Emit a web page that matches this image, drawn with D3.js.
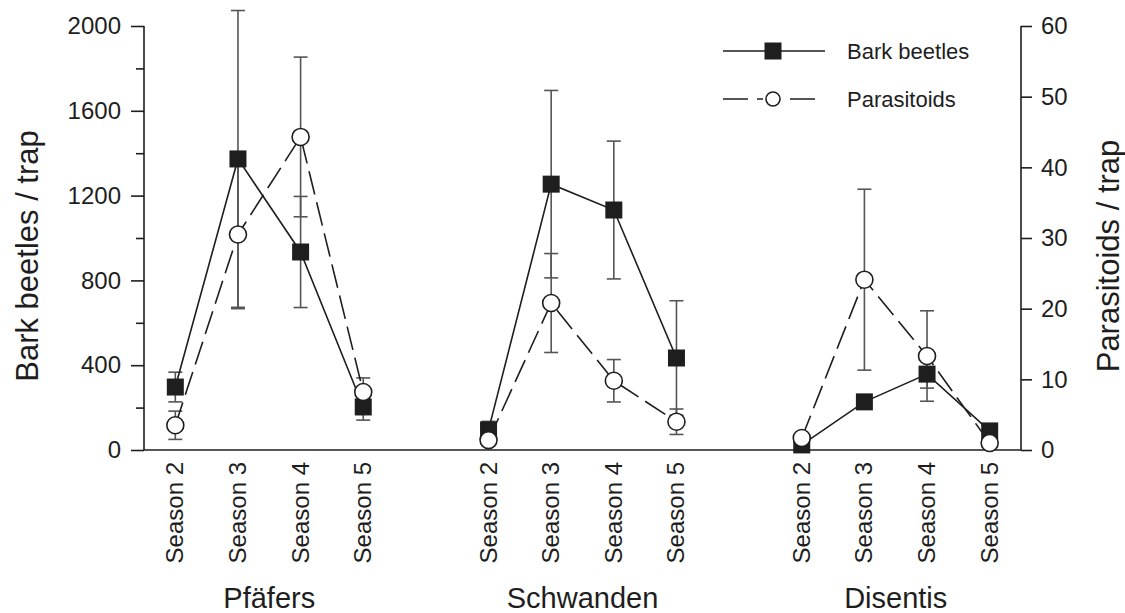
<!DOCTYPE html>
<html>
<head>
<meta charset="utf-8">
<script src="https://cdn.jsdelivr.net/npm/d3@7"></script>
<style>
  html, body { margin: 0; padding: 0; background: #fff; }
  svg { display: block; font-family: "Liberation Sans", Arial, Helvetica, sans-serif; }
</style>
</head>
<body>
<svg id="chart" width="1125" height="613"></svg>
<script>
// ---------- data ----------
const sites = ["Pfäfers", "Schwanden", "Disentis"];
const seasons = ["Season 2", "Season 3", "Season 4", "Season 5"];

// Bark beetles per trap (left axis), mean and error (+/-)
const barkMean = [
  [297, 1373, 934, 203],
  [95, 1254, 1132, 434],
  [24, 227, 358, 90]
];
const barkErr = [
  [70, 700, 262, 62],
  [40, 442, 325, 270],
  [15, 20, 66, 20]
];

// Parasitoids per trap (right axis), mean and error (+/-)
const paraMean = [
  [3.5, 30.5, 44.3, 8.2],
  [1.4, 20.8, 9.8, 4.0],
  [1.7, 24.1, 13.3, 1.0]
];
const paraErr = [
  [2.0, 10.5, 11.3, 2.0],
  [0.5, 7.0, 3.0, 1.8],
  [0.5, 12.8, 6.4, 0.5]
];

const leftTicks = [0, 400, 800, 1200, 1600, 2000];
const leftMinorTicks = [200, 600, 1000, 1400, 1800];
const rightTicks = [0, 10, 20, 30, 40, 50, 60];
const seriesNames = ["Bark beetles", "Parasitoids"];

// ---------- layout ----------
const svg = d3.select("#chart");
const X0 = 144, X1 = 1021, YTOP = 26, YBOT = 450;
const ink = "#1e1e1e";
const barInk = "#555";

// slot keys: each site gets 4 seasons, with an empty slot between sites
const slotKeys = [];
sites.forEach((s, i) => {
  seasons.forEach(se => slotKeys.push(s + "|" + se));
  if (i < sites.length - 1) slotKeys.push("gap" + i);
});

const x = d3.scalePoint().domain(slotKeys).range([X0, X1]).padding(0.5);
const yL = d3.scaleLinear().domain([0, 2000]).range([YBOT, YTOP]);
const yR = d3.scaleLinear().domain([0, 60]).range([YBOT, YTOP]);

// ---------- axes ----------
const fontTick = 24;

const gL = svg.append("g").attr("transform", `translate(${X0},0)`)
  .call(d3.axisLeft(yL).tickValues(leftTicks).tickSize(13).tickPadding(10).tickFormat(d3.format("d")));
svg.append("g").attr("transform", `translate(${X0},0)`)
  .call(d3.axisLeft(yL).tickValues(leftMinorTicks).tickSize(8).tickFormat(""))
  .call(g => g.select(".domain").remove());

const gR = svg.append("g").attr("transform", `translate(${X1},0)`)
  .call(d3.axisRight(yR).tickValues(rightTicks).tickSize(11).tickPadding(9).tickFormat(d3.format("d")));

svg.selectAll(".domain, .tick line").attr("stroke", ink).attr("stroke-width", 1.6);
gL.select(".domain").attr("d", `M0,${YTOP}V${YBOT}`);
gR.select(".domain").attr("d", `M0,${YTOP}V${YBOT}`);
svg.selectAll(".tick text").attr("fill", ink).attr("font-size", fontTick)
  .attr("font-family", "Liberation Sans, Arial, sans-serif");

svg.append("line").attr("x1", X0).attr("x2", X1).attr("y1", YBOT).attr("y2", YBOT)
  .attr("stroke", ink).attr("stroke-width", 1.6);

// season and site labels
const gx = svg.append("g");
sites.forEach(s => {
  seasons.forEach(se => {
    const cx = x(s + "|" + se);
    gx.append("text")
      .attr("transform", `translate(${cx + 8},${YBOT + 12}) rotate(-90)`)
      .attr("text-anchor", "end")
      .attr("font-size", fontTick)
      .attr("fill", ink)
      .text(se);
  });
  const c = (x(s + "|" + seasons[1]) + x(s + "|" + seasons[2])) / 2;
  gx.append("text").attr("x", c).attr("y", 608).attr("text-anchor", "middle")
    .attr("font-size", 29).attr("fill", ink).text(s);
});

// axis titles
svg.append("text").attr("transform", `translate(38,256) rotate(-90)`)
  .attr("text-anchor", "middle").attr("font-size", 31).attr("fill", ink).text("Bark beetles / trap");
svg.append("text").attr("transform", `translate(1119,256) rotate(-90)`)
  .attr("text-anchor", "middle").attr("font-size", 31).attr("fill", ink).text("Parasitoids / trap");

// ---------- data marks ----------
function pts(meanArr, errArr, yScale) {
  return sites.map((s, i) => seasons.map((se, j) => ({
    x: x(s + "|" + se), y: yScale(meanArr[i][j]),
    lo: yScale(meanArr[i][j] - errArr[i][j]), hi: yScale(meanArr[i][j] + errArr[i][j])
  })));
}
const barkPts = pts(barkMean, barkErr, yL);
const paraPts = pts(paraMean, paraErr, yR);

const capW = 7;
function errorBars(groups) {
  const g = svg.append("g").attr("stroke", barInk).attr("stroke-width", 1.6).attr("fill", "none");
  groups.flat().forEach(p => {
    g.append("line").attr("x1", p.x).attr("x2", p.x).attr("y1", p.lo).attr("y2", p.hi);
    g.append("line").attr("x1", p.x - capW).attr("x2", p.x + capW).attr("y1", p.lo).attr("y2", p.lo);
    g.append("line").attr("x1", p.x - capW).attr("x2", p.x + capW).attr("y1", p.hi).attr("y2", p.hi);
  });
}
errorBars(barkPts);
errorBars(paraPts);

const line = d3.line().x(d => d.x).y(d => d.y);
barkPts.forEach(grp => {
  svg.append("path").attr("d", line(grp)).attr("fill", "none")
    .attr("stroke", ink).attr("stroke-width", 1.6);
});
paraPts.forEach(grp => {
  svg.append("path").attr("d", line(grp)).attr("fill", "none")
    .attr("stroke", ink).attr("stroke-width", 1.6).attr("stroke-dasharray", "24,8");
});

const sq = 17, rC = 8.5;
barkPts.flat().forEach(p => {
  svg.append("rect").attr("x", p.x - sq / 2).attr("y", p.y - sq / 2)
    .attr("width", sq).attr("height", sq).attr("fill", ink);
});
paraPts.flat().forEach(p => {
  svg.append("circle").attr("cx", p.x).attr("cy", p.y).attr("r", rC)
    .attr("fill", "#fff").attr("stroke", ink).attr("stroke-width", 1.6);
});

// ---------- legend ----------
const lg = svg.append("g");
const lx0 = 723, lmid = 773, ly = [51, 99];
lg.append("line").attr("x1", lx0).attr("x2", 825).attr("y1", ly[0]).attr("y2", ly[0])
  .attr("stroke", ink).attr("stroke-width", 1.6);
lg.append("rect").attr("x", lmid - sq / 2).attr("y", ly[0] - sq / 2).attr("width", sq).attr("height", sq).attr("fill", ink);
lg.append("line").attr("x1", lx0).attr("x2", 815).attr("y1", ly[1]).attr("y2", ly[1])
  .attr("stroke", ink).attr("stroke-width", 1.6).attr("stroke-dasharray", "25,9,6,27,25");
lg.append("circle").attr("cx", lmid).attr("cy", ly[1]).attr("r", 7)
  .attr("fill", "#fff").attr("stroke", ink).attr("stroke-width", 1.6);
seriesNames.forEach((n, i) => {
  lg.append("text").attr("x", 847).attr("y", ly[i] + 8).attr("font-size", 22)
    .attr("fill", ink).text(n);
});
</script>
</body>
</html>
